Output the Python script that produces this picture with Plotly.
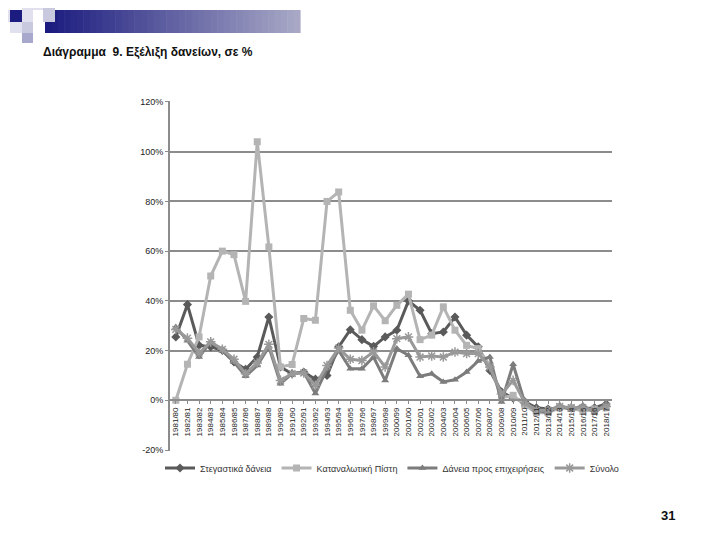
import plotly.graph_objects as go

categories = ["1981/80", "1982/81", "1983/82", "1984/83", "1985/84", "1986/85", "1987/86",
              "1988/87", "1989/88", "1990/89", "1991/90", "1992/91", "1993/92", "1994/93",
              "1995/94", "1996/95", "1997/96", "1998/97", "1999/98", "2000/99", "2001/00",
              "2002/01", "2003/02", "2004/03", "2005/04", "2006/05", "2007/06", "2008/07",
              "2009/08", "2010/09", "2011/10", "2012/11", "2013/12", "2014/13", "2015/14",
              "2016/15", "2017/16", "2018/17"]

housing = [25.5, 38.5, 22.1, 21.5, 20.1, 15.4, 12.5, 17.4, 33.5, 13.4, 10.7, 11.4, 8.5, 10.0,
           21.5, 28.4, 24.4, 21.7, 25.5, 28.2, 40.0, 36.2, 26.8, 27.5, 33.5, 26.2, 21.5, 12.0,
           3.4, 0.8, -0.5, -3.0, -3.5, -3.0, -3.0, -3.5, -3.0, -1.5]

consumer = [0.0, 14.5, 25.5, 50.0, 60.0, 58.6, 39.8, 104.0, 61.7, 13.4, 14.4, 32.9, 32.2, 80.0,
            83.8, 36.2, 28.2, 38.0, 32.0, 38.2, 42.7, 24.4, 26.2, 37.6, 28.2, 22.1, 20.8, 14.0,
            1.0, 2.0, -2.0, -5.0, -5.0, -3.0, -3.0, -4.5, -3.5, -3.0]

business = [29.5, 24.0, 17.4, 23.5, 20.0, 15.4, 9.7, 14.0, 21.5, 6.7, 10.7, 11.4, 2.7, 12.7,
            20.1, 12.7, 12.7, 17.4, 8.0, 20.8, 18.1, 9.7, 10.7, 7.4, 8.3, 11.4, 15.8, 17.4,
            -0.7, 14.5, -1.0, -4.0, -5.0, -2.0, -4.0, -2.0, -5.0, -1.5]

total = [28.5, 25.0, 19.0, 23.5, 20.5, 16.5, 10.7, 15.0, 22.5, 8.0, 10.7, 11.0, 6.0, 14.0,
         21.0, 16.5, 16.0, 19.5, 13.4, 24.8, 25.5, 17.4, 17.8, 17.4, 19.4, 18.8, 18.8, 13.4,
         2.5, 8.0, -1.0, -4.0, -4.0, -2.5, -3.0, -3.0, -4.0, -2.5]

series_names = ["Στεγαστικά δάνεια", "Καταναλωτική Πίστη", "Δάνεια προς επιχειρήσεις", "Σύνολο"]
y_ticks = [-20, 0, 20, 40, 60, 80, 100, 120]
y_tick_labels = ["-20%", "0%", "20%", "40%", "60%", "80%", "100%", "120%"]

styles = [
    dict(color="#5a5a5a", symbol="diamond", size=7),
    dict(color="#b4b4b4", symbol="square", size=7),
    dict(color="#7c7c7c", symbol="triangle-up", size=7),
    dict(color="#999999", symbol="asterisk-open", size=8),
]

fig = go.Figure()
for name, vals, st in zip(series_names, [housing, consumer, business, total], styles):
    mk = dict(symbol=st["symbol"], size=st["size"], color=st["color"])
    if st["symbol"] == "asterisk-open":
        mk["line"] = dict(color=st["color"], width=1.5)
    fig.add_trace(go.Scatter(
        x=categories, y=vals, name=name, mode="lines+markers",
        line=dict(color=st["color"], width=3), marker=mk,
    ))

FONT = "Liberation Sans, Arial, sans-serif"

# page offset (browser body margin)
OFF = 8
PL, PR, PT, PB = 170, 612, 101, 451  # plot area in page pixels
PW, PH = PR - PL, PB - PT


def px(x):
    return (x - PL) / PW


def py(y):
    return (PB - y) / PH


# decorative header (slide template)
shapes = []
n = 40
x0, x1 = 45, 300
for i in range(n):
    t = i / (n - 1)
    r = int(0x1c + (0xa8 - 0x1c) * t)
    g = int(0x1c + (0xa8 - 0x1c) * t)
    b = int(0x80 + (0xc6 - 0x80) * t)
    xa = x0 + (x1 - x0) * i / n
    xb = x0 + (x1 - x0) * (i + 1) / n + 0.6
    shapes.append(dict(type="rect", xref="paper", yref="paper",
                       x0=px(xa), x1=px(xb), y0=py(33), y1=py(10),
                       fillcolor=f"rgb({r},{g},{b})", line=dict(width=0), layer="above"))

squares = [
    (22, 0, 43, 10, "#e0e0ee"),
    (43, 0, 55, 22, "#c8c8de"),
    (0, 10, 10, 22, "#e0e0ee"),
    (10, 10, 22, 22, "#1c1c80"),
    (22, 10, 33, 22, "#e0e0ee"),
    (10, 22, 22, 33, "#e0e0ee"),
    (22, 22, 33, 33, "#c8c8de"),
    (22, 33, 33, 43, "#a8a8cc"),
]
for (a, bb, c, d, col) in squares:
    shapes.append(dict(type="rect", xref="paper", yref="paper",
                       x0=px(a), x1=px(c), y0=py(d), y1=py(bb),
                       fillcolor=col, line=dict(width=0), layer="above"))

fig.update_layout(
    width=720, height=540,
    margin=dict(l=PL - OFF, r=720 - (PR - OFF), t=PT - OFF, b=540 - (PB - OFF)),
    paper_bgcolor="white", plot_bgcolor="white",
    font=dict(family=FONT, size=9, color="#222222"),
    title=dict(text="<b>Διάγραμμα  9. Εξέλιξη δανείων, σε %</b>",
               x=(43 - OFF) / 720, xanchor="left", xref="container",
               y=1 - (52 - OFF) / 540, yanchor="middle", yref="container",
               font=dict(family=FONT, size=12, color="#111111")),
    showlegend=True,
    legend=dict(orientation="h", x=px(160), xanchor="left", y=py(468), yanchor="middle",
                bgcolor="rgba(0,0,0,0)",
                font=dict(family=FONT, size=9, color="#333333"), itemwidth=30,
                tracegroupgap=0),
    shapes=shapes,
    annotations=[dict(text="<b>31</b>", x=px(668), y=py(515), xref="paper", yref="paper",
                      xanchor="center", yanchor="middle",
                      showarrow=False, font=dict(family=FONT, size=13, color="#111111"))],
)

YMIN, YMAX = -20.4, 120.4
fig.update_yaxes(
    range=[YMIN, YMAX], tickvals=y_ticks, ticktext=y_tick_labels,
    showgrid=True, gridcolor="#8c8c8c", gridwidth=2,
    showline=True, linecolor="#8c8c8c", linewidth=2,
    ticks="outside", ticklen=3, tickcolor="#8c8c8c",
    zeroline=False, tickfont=dict(family=FONT, size=9, color="#222222"),
)
fig.update_xaxes(
    type="category", tickangle=-90, range=[-0.5, len(categories) - 0.5],
    anchor="free", position=(0 - YMIN) / (YMAX - YMIN),
    showline=True, linecolor="#8c8c8c", linewidth=2,
    ticks="outside", ticklen=3, tickcolor="#8c8c8c",
    showgrid=False, tickfont=dict(family=FONT, size=8, color="#222222"),
)

fig.write_html("out.html")
